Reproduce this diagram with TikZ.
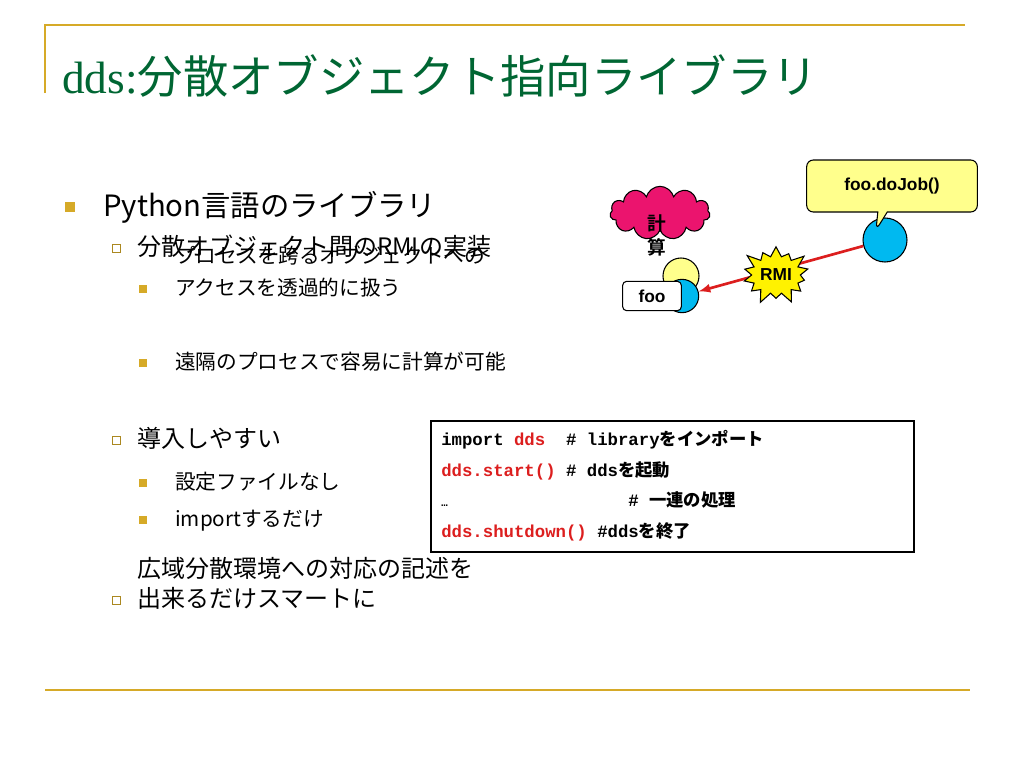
\documentclass[tikz,border=0pt]{standalone}
\usepackage{fontspec}
\setmainfont{Liberation Sans}
\newfontfamily\jp{Noto Sans CJK JP}
\newfontfamily\jpb{Noto Sans CJK JP Bold}
\newfontfamily\serif{Liberation Serif}
\newfontfamily\mono{Liberation Mono}
\usetikzlibrary{shapes.symbols,shapes.callouts}
\definecolor{gold}{RGB}{214,170,40}
\definecolor{tgreen}{RGB}{0,102,51}
\definecolor{cred}{RGB}{220,30,30}
\definecolor{cblue}{RGB}{0,185,240}
\definecolor{cpink}{RGB}{235,20,110}
\definecolor{cyel}{RGB}{255,255,140}
\tikzset{
 lvA/.style={anchor=base west,font=\jp\fontsize{22}{26}\selectfont,inner sep=0pt},
 lvB/.style={anchor=base west,font=\jp\fontsize{18}{22}\selectfont,inner sep=0pt},
 lvC/.style={anchor=base west,font=\jp\fontsize{15.5}{24}\selectfont,inner sep=0pt,align=left},
 bA/.style={fill=gold,minimum size=8pt,inner sep=0pt},
 bB/.style={draw=gold!80!black,line width=0.6pt,minimum size=6pt,inner sep=0pt},
 bC/.style={fill=gold,minimum size=6pt,inner sep=0pt},
 code/.style={anchor=base west,inner sep=0pt,font=\mono\bfseries\fontsize{13}{16}\selectfont},
}
\begin{document}
\begin{tikzpicture}[x=0.75pt,y=-0.75pt]
\useasboundingbox (0,0) rectangle (1024,768);
\draw[gold,line width=1.2pt] (45,93) -- (45,25) -- (965,25);
\draw[gold,line width=1.2pt] (45,690) -- (970,690);
\node[anchor=base west,inner sep=0pt,text=tgreen] (title) at (62,93)
 {{\serif\fontsize{34}{40}\selectfont dds:}{\jp\fontsize{34}{40}\selectfont 分散オブジェクト指向ライブラリ}};
% bullets
\node[bA] (b1) at (70,207) {};
\node[lvA] (t1) at (103,216) {Python言語のライブラリ};
\node[bB] (b2) at (116,248) {};
\node[lvB] (t2) at (137,255) {分散オブジェクト間のRMIの実装};
\node[bC] (b3) at (143,289) {};
\node[lvC] (t3) at (175,295) {プロセスを跨るオブジェクトへの\\アクセスを透過的に扱う};
\node[bC] (b4) at (143,363) {};
\node[lvC] (t4) at (175,369) {遠隔のプロセスで容易に計算が可能};
\node[bB] (b5) at (116,440) {};
\node[lvB] (t5) at (137,447) {導入しやすい};
\node[bC] (b6) at (143,483) {};
\node[lvC] (t6) at (175,489) {設定ファイルなし};
\node[bC] (b7) at (143,520) {};
\node[lvC] (t7) at (175,526) {importするだけ};
\node[bB] (b8) at (116,600) {};
\node[lvB,align=left] (t8) at (137,607) {広域分散環境への対応の記述を\\出来るだけスマートに};
% code box
\draw[line width=2.2pt] (431,421) rectangle (914,552);
\node[code] (c1) at (441,445) {import \textcolor{cred}{dds}~~\# library{\jpb をインポート}};
\node[code] (c2) at (441,476) {\textcolor{cred}{dds.start()} \# dds{\jpb を起動}};
\node[code] (c3) at (441,506) {{\fontsize{8}{8}\selectfont …}};
\node[code] (c3b) at (628,506) {\# {\jpb 一連の処理}};
\node[code] (c4) at (441,537) {\textcolor{cred}{dds.shutdown()} \#dds{\jpb を終了}};
% diagram
\node[cloud,cloud puffs=11,aspect=2.2,draw,thick,fill=cpink,minimum width=75pt,minimum height=40pt,inner sep=0pt] (cl) at (660,213) {};
\node[circle,draw,thick,fill=cyel,minimum size=27pt,inner sep=0pt] (yc) at (681,276) {};
\node[circle,draw,thick,fill=cblue,minimum size=25pt,inner sep=0pt] (bc) at (682,296) {};
\node[draw,thick,fill=white,rounded corners=3pt,minimum width=44pt,minimum height=22pt,inner sep=0pt,font=\bfseries\fontsize{13}{15}\selectfont] (foo) at (652,296) {foo};
\node[font=\jpb\fontsize{14}{18}\selectfont,align=center,inner sep=0pt] (kei) at (657,235) {計\\算};
\node[circle,draw,thick,fill=cblue,minimum size=33pt,inner sep=0pt] (bc2) at (885,240) {};
\draw[cred,line width=2pt,-latex] (bc2) -- (bc);
\node[rectangle callout,draw,thick,fill=cyel,rounded corners=5pt,minimum width=128pt,minimum height=39pt,callout absolute pointer={(876,230)},font=\bfseries\fontsize{13}{15}\selectfont] (call) at (892,186) {foo.doJob()};
\node[starburst,starburst points=14,starburst point height=10pt,draw,thick,fill=yellow,minimum width=54pt,minimum height=48pt,inner sep=1pt,font=\bfseries\fontsize{13}{15}\selectfont] (rmi) at (776,275) {RMI};
\end{tikzpicture}
\end{document}
